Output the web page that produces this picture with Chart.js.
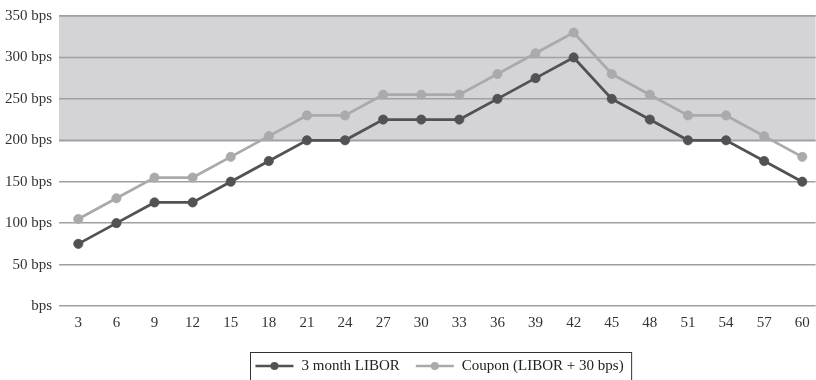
<!DOCTYPE html>
<html>
<head>
<meta charset="utf-8">
<script src="https://cdn.jsdelivr.net/npm/chart.js@4"></script>
<style>
  html, body { margin: 0; padding: 0; background: #fff; overflow: hidden; }
  #wrap { position: relative; width: 821px; height: 380px; }
  canvas { display: block; }
</style>
</head>
<body>
<div id="wrap"><canvas id="chart"></canvas></div>
<script>
// Months on the x axis
const months = [3, 6, 9, 12, 15, 18, 21, 24, 27, 30, 33, 36, 39, 42, 45, 48, 51, 54, 57, 60];
// 3 month LIBOR, in basis points
const libor = [75, 100, 125, 125, 150, 175, 200, 200, 225, 225, 225, 250, 275, 300, 250, 225, 200, 200, 175, 150];
// Coupon = LIBOR + 30 bps
const coupon = [105, 130, 155, 155, 180, 205, 230, 230, 255, 255, 255, 280, 305, 330, 280, 255, 230, 230, 205, 180];
// Y axis tick values
const yTicks = [0, 50, 100, 150, 200, 250, 300, 350];
// Band shaded behind the lines
const bandFrom = 200;
const bandTo = 350;

const FONT = "'Liberation Serif', 'DejaVu Serif', serif";
const DARK = '#525254';
const LIGHT = '#aaaaac';

const toPoints = values => months.map((m, i) => ({ x: m, y: values[i] }));

// Grey band behind the series
const bandPlugin = {
  id: 'band',
  beforeDatasetsDraw(chart) {
    const { ctx, chartArea, scales } = chart;
    const yTop = scales.y.getPixelForValue(bandTo);
    const yBot = scales.y.getPixelForValue(bandFrom);
    ctx.save();
    ctx.fillStyle = '#d4d4d6';
    ctx.fillRect(chartArea.left, yTop, chartArea.right - chartArea.left, yBot - yTop);
    // redraw the grid lines that fall inside the band
    ctx.strokeStyle = '#a0a0a0';
    ctx.lineWidth = 1.5;
    yTicks.forEach(v => {
      if (v >= bandFrom && v <= bandTo) {
        const y = scales.y.getPixelForValue(v);
        ctx.beginPath();
        ctx.moveTo(chartArea.left, y);
        ctx.lineTo(chartArea.right, y);
        ctx.stroke();
      }
    });
    ctx.restore();
  }
};

// Boxed legend with line-and-dot markers
const boxLegendPlugin = {
  id: 'boxLegend',
  afterDraw(chart) {
    const { ctx, chartArea } = chart;
    const ds = chart.data.datasets;
    ctx.save();
    ctx.font = '15px ' + FONT;
    const markerW = 38, gapMarker = 8, gapItems = 16, padL = 5, padR = 8;
    const widths = ds.map(d => ctx.measureText(d.label).width);
    let total = padL + padR;
    widths.forEach((w, i) => { total += markerW + gapMarker + w + (i ? gapItems : 0); });
    const cx = (chartArea.left + chartArea.right) / 2 + 3;
    const left = Math.round(cx - total / 2) + 0.5;
    const top = 352.5;
    const yMid = 366;
    ctx.strokeStyle = '#333';
    ctx.lineWidth = 1;
    ctx.strokeRect(left, top, total, 40);
    let x = left + padL;
    ds.forEach((d, i) => {
      if (i) x += gapItems;
      ctx.strokeStyle = d.borderColor;
      ctx.lineWidth = 2.5;
      ctx.beginPath();
      ctx.moveTo(x, yMid);
      ctx.lineTo(x + markerW, yMid);
      ctx.stroke();
      ctx.fillStyle = d.borderColor;
      ctx.beginPath();
      ctx.arc(x + markerW / 2, yMid, 4, 0, Math.PI * 2);
      ctx.fill();
      x += markerW + gapMarker;
      ctx.fillStyle = '#222';
      ctx.textBaseline = 'middle';
      ctx.textAlign = 'left';
      ctx.fillText(d.label, x, yMid);
      x += widths[i];
    });
    ctx.restore();
  }
};

new Chart(document.getElementById('chart'), {
  type: 'line',
  data: {
    datasets: [
      {
        label: '3 month LIBOR',
        data: toPoints(libor),
        borderColor: DARK,
        backgroundColor: DARK,
        pointBackgroundColor: DARK,
        borderWidth: 2.8,
        pointRadius: 4.6,
        pointBorderWidth: 0.8,
        tension: 0
      },
      {
        label: 'Coupon (LIBOR + 30 bps)',
        data: toPoints(coupon),
        borderColor: LIGHT,
        backgroundColor: LIGHT,
        pointBackgroundColor: LIGHT,
        borderWidth: 2.8,
        pointRadius: 4.6,
        pointBorderWidth: 0.8,
        tension: 0
      }
    ]
  },
  options: {
    responsive: true,
    maintainAspectRatio: false,
    animation: false,
    layout: { padding: { top: 14, right: 0, left: 0, bottom: 40 } },
    plugins: {
      legend: { display: false },
      tooltip: { enabled: false }
    },
    scales: {
      x: {
        type: 'linear',
        min: 1.48,
        max: 61.05,
        afterBuildTicks(scale) { scale.ticks = months.map(v => ({ value: v })); },
        grid: { display: false, drawTicks: false },
        border: { display: false },
        ticks: {
          color: '#333',
          font: { family: FONT, size: 15 },
          padding: 8,
          maxRotation: 0,
          autoSkip: false,
          callback: v => String(v)
        }
      },
      y: {
        min: 0,
        max: 350,
        afterFit(scale) { scale.width = 59; },
        afterBuildTicks(scale) { scale.ticks = yTicks.map(v => ({ value: v })); },
        grid: { color: '#a0a0a0', lineWidth: 1.5, drawTicks: false },
        border: { display: false },
        ticks: {
          color: '#333',
          font: { family: FONT, size: 15 },
          padding: 7,
          callback: v => (v === 0 ? 'bps' : v + ' bps')
        }
      }
    }
  },
  plugins: [bandPlugin, boxLegendPlugin]
});
</script>
</body>
</html>
